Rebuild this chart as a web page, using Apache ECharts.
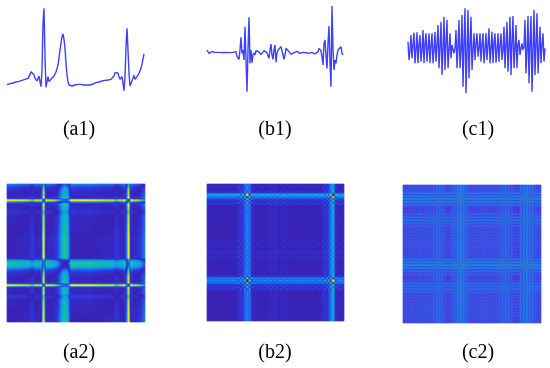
<!DOCTYPE html>
<html>
  <head>
    <title>Signals and recurrence plots</title>
    <meta http-equiv="content-type" content="text/html; charset=UTF-8">
    <script src="https://cdn.jsdelivr.net/npm/echarts@6/dist/echarts.min.js"></script>
    <style>
      html, body { margin: 0; padding: 0; background: #fff; }
      #main { width: 550px; height: 368px; }
    </style>
  </head>
  <body>
    <div id="main"></div>
    <script>
      // traces, one sample per pixel column
      var a1 = [46,47,48,49,49,50,51,52,53,54,55,56,56,57,58,59,60,61,62,62,63,65,68,76,85,90,86,76,65,59,57,62,72,55,40,90,230,275,130,38,55,70,55,60,62,65,68,72,76,84,95,105,125,150,170,190,198,182,155,110,75,55,45,41,40,42,43,44,45,46,47,47,48,48,47,46,46,45,45,45,45,45,45,45,46,47,48,50,51,52,53,53,54,55,56,57,57,58,59,59,60,60,61,61,62,62,64,72,82,87,86,81,70,62,65,70,50,28,70,160,215,150,80,42,38,42,65,74,62,65,70,74,80,86,95,108,123,138];
      var b1 = [150,150,140,137,142,145,142,140,143,140,140,143,141,143,142,142,142,143,141,142,142,142,143,142,142,142,143,142,140,145,130,124,122,150,188,140,150,120,220,120,25,150,248,110,150,112,135,142,135,148,150,145,144,142,136,135,140,148,150,145,142,132,125,150,168,135,122,150,165,113,140,150,145,150,160,148,135,122,135,155,158,150,145,140,137,138,140,142,142,144,146,148,144,140,141,142,143,144,143,142,140,137,140,143,145,143,141,140,138,136,135,145,155,150,148,130,105,170,180,135,95,170,222,110,40,282,150,90,120,110,135,150,145,155,160,140,135];
      var c1 = [175,120,150,195,125,165,202,110,150,203,110,165,195,115,150,210,110,170,200,115,155,200,110,165,200,110,150,205,115,165,225,95,160,235,75,150,250,90,170,240,95,150,200,125,165,170,140,155,210,95,160,240,95,150,255,40,170,275,20,145,270,65,165,250,90,150,200,120,170,200,130,155,200,115,165,200,110,150,200,120,165,215,110,155,205,110,170,200,112,150,200,115,165,200,120,150,220,95,165,235,85,155,250,75,170,252,95,150,225,95,165,180,135,155,170,150,160,240,80,150,252,50,170,252,25,150,270,75,165,260,80,150,220,110,165,200,115,155];

      // band profiles read along the edge of each square plot
      var a2 = [46,47,48,49,49,50,51,52,53,54,55,56,56,57,58,59,60,61,62,62,63,65,68,76,85,90,86,76,65,59,57,62,72,55,50,140,285,265,120,40,55,70,55,60,62,65,68,72,76,84,95,105,125,145,170,185,195,205,210,205,195,175,135,75,40,42,43,44,45,46,47,47,48,48,47,46,46,45,45,45,45,45,45,45,46,47,48,50,51,52,53,53,54,55,56,57,57,58,59,59,60,60,61,61,62,62,64,72,82,87,86,81,70,62,65,70,50,35,70,120,170,285,265,100,38,42,65,74,62,65,70,74,80,86,95,108,123,138];
      var b2 = [150,150,140,137,142,145,142,140,143,140,140,143,141,143,142,142,142,143,141,142,142,142,143,142,142,142,143,142,140,145,130,110,105,175,188,110,100,215,235,60,25,60,248,225,100,112,135,142,135,148,150,145,144,142,136,135,140,148,150,145,142,132,125,150,168,135,122,150,165,113,140,150,145,150,160,148,135,122,135,155,158,150,145,140,137,138,140,142,142,144,146,148,144,140,141,142,143,144,143,142,140,137,140,143,145,143,141,140,138,136,135,145,155,150,148,130,105,170,190,135,95,170,222,60,40,270,282,250,110,110,135,150,145,155,160,140,135];
      var c2 = c1;

      var labels = ['(a1)', '(b1)', '(c1)', '(a2)', '(b2)', '(c2)'];

      var lineColor = '#3f3fff';
      var heatColors = ['#3c24b4', '#3236d8', '#1f66f0', '#12a0e4', '#10c0a8', '#7fcc50', '#f8f010'];
      var flatColors = ['#5a2cd0', '#3a50e8', '#2078f0', '#1490e8', '#10a4c8', '#20b0a0'];

      // each cell is the distance between two samples of the profile
      function recurrence(profile) {
        var cells = [];
        for (var i = 0; i < profile.length; i++) {
          for (var j = 0; j < profile.length; j++) {
            cells.push([i, j, Math.abs(profile[i] - profile[j])]);
          }
        }
        return cells;
      }

      function indexes(trace) {
        return trace.map(function (v, i) { return i; });
      }

      var panels = [
        { trace: a1, profile: a2, colors: heatColors, maxDist: 235, lineLeft: 7, heatLeft: 7, heatTop: 184, labelX: 74 },
        { trace: b1, profile: b2, colors: heatColors, maxDist: 257, lineLeft: 207, heatLeft: 207, heatTop: 184, labelX: 270 },
        { trace: c1, profile: c2, colors: flatColors, maxDist: 220, lineLeft: 408, heatLeft: 403, heatTop: 185, labelX: 473 }
      ];

      var grid = [], xAxis = [], yAxis = [], series = [], visualMap = [], title = [];

      panels.forEach(function (p, k) {
        var n = p.trace.length;
        // line panel
        grid.push({ left: p.lineLeft, top: 0, width: n - 1, height: 100 });
        xAxis.push({ type: 'category', gridIndex: 2 * k, data: indexes(p.trace), boundaryGap: false, show: false });
        yAxis.push({ type: 'value', gridIndex: 2 * k, min: 0, max: 300, show: false });
        series.push({
          type: 'line', xAxisIndex: 2 * k, yAxisIndex: 2 * k, data: p.trace,
          showSymbol: false, animation: false, lineStyle: { color: lineColor, width: 1.4 }
        });
        // heatmap panel
        var m = p.profile.length;
        grid.push({ left: p.heatLeft, top: p.heatTop, width: m, height: m });
        xAxis.push({ type: 'category', gridIndex: 2 * k + 1, data: indexes(p.profile), show: false });
        yAxis.push({ type: 'category', gridIndex: 2 * k + 1, data: indexes(p.profile), show: false });
        series.push({
          type: 'heatmap', xAxisIndex: 2 * k + 1, yAxisIndex: 2 * k + 1,
          data: recurrence(p.profile), progressive: 0, animation: false
        });
        visualMap.push({
          show: false, seriesIndex: 2 * k + 1, dimension: 2, min: 0, max: p.maxDist,
          inRange: { color: p.colors }
        });
        // captions
        [0, 1].forEach(function (row) {
          title.push({
            text: labels[row * 3 + k], left: p.labelX, top: row ? 338 : 115, textAlign: 'center',
            textStyle: { fontFamily: 'Liberation Serif', fontSize: 20, fontWeight: 'normal', color: '#000' }
          });
        });
      });

      var myChart = echarts.init(document.getElementById('main'), null, { renderer: 'canvas' });
      myChart.setOption({
        backgroundColor: '#fff', animation: false,
        title: title, grid: grid, xAxis: xAxis, yAxis: yAxis, series: series, visualMap: visualMap
      });
    </script>
  </body>
</html>
